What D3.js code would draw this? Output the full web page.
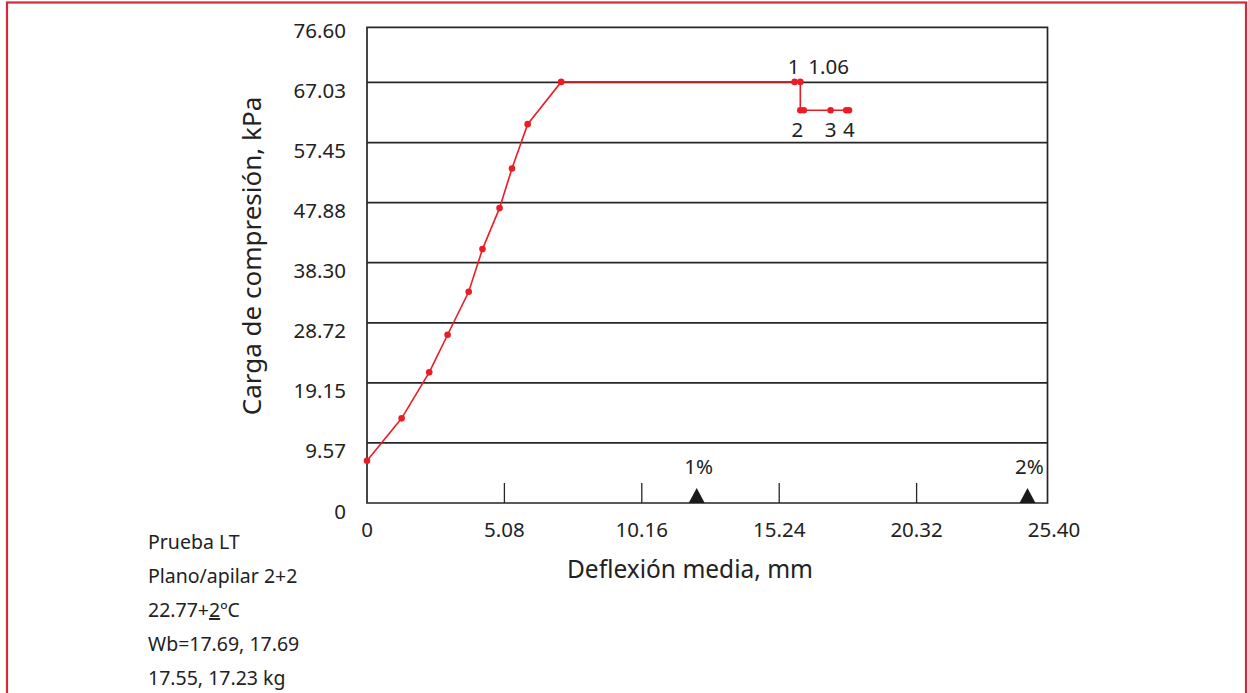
<!DOCTYPE html>
<html><head><meta charset="utf-8">
<script src="https://cdn.jsdelivr.net/npm/d3@7"></script>
<style>body{margin:0;background:#fff}svg{display:block}text{font-family:"Noto Sans",sans-serif;fill:#222}</style>
</head><body><svg id="c" width="1248" height="693"></svg>
<script>
const xTicks = [0, 5.08, 10.16, 15.24, 20.32, 25.40];
const yTicks = [0, 9.57, 19.15, 28.72, 38.30, 47.88, 57.45, 67.03, 76.60];
const defl = [0, 1.28, 2.30, 2.98, 3.76, 4.27, 4.90, 5.36, 5.94, 7.18, 15.81, 16.02, 16.02, 16.15, 17.14, 17.72, 17.82];
const load = [6.74, 13.49, 20.82, 26.82, 33.67, 40.47, 47.0, 53.32, 60.38, 67.12, 67.12, 67.12, 62.61, 62.61, 62.61, 62.61, 62.61];
const pointLabels = [{i:10,t:"1"},{i:11,t:"1.06"},{i:12,t:"2"},{i:14,t:"3"},{i:16,t:"4"}];
const markers = [{x:12.19,t:"1%"},{x:24.42,t:"2%"}];
const notes = ["Prueba LT","Plano/apilar 2+2","22.77+2ºC","Wb=17.69, 17.69","17.55, 17.23 kg"];

const svg = d3.select("#c");
svg.append("rect").attr("x",7).attr("y",2.5).attr("width",1239).attr("height",720)
  .attr("fill","none").attr("stroke","#d32a3b").attr("stroke-width",2.2);

const x = d3.scaleLinear().domain([0,25.40]).range([367,1054]);
const y = d3.scaleLinear().domain([0,76.60]).range([503,22.4]);
const frameRight = x(25.16), frameTop = y(75.8);
const ink = "#262626";

// grid
svg.append("g").selectAll("line").data(yTicks.slice(1,8)).join("line")
  .attr("x1",x(0)).attr("x2",frameRight).attr("y1",d=>y(d)).attr("y2",d=>y(d))
  .attr("stroke",ink).attr("stroke-width",1.7);
// frame
svg.append("path").attr("d",`M${x(0)},${y(0)}V${frameTop}H${frameRight}V${y(0)}Z`)
  .attr("fill","none").attr("stroke",ink).attr("stroke-width",1.7);
// x ticks inside
svg.append("g").selectAll("line").data(xTicks.slice(1,5)).join("line")
  .attr("x1",d=>x(d)).attr("x2",d=>x(d)).attr("y1",y(0)).attr("y2",y(0)-20)
  .attr("stroke",ink).attr("stroke-width",1.3);

// y tick labels
svg.append("g").selectAll("text").data(yTicks).join("text")
  .attr("x",346).attr("y",d=>y(d)+15.5).attr("text-anchor","end")
  .attr("font-size",20.5).text(d=>d===0?"0":d.toFixed(2));
// x tick labels
svg.append("g").selectAll("text").data(xTicks).join("text")
  .attr("x",d=>x(d)).attr("y",537).attr("text-anchor","middle")
  .attr("font-size",20.5).text(d=>d===0?"0":d.toFixed(2));

svg.append("text").attr("x",690).attr("y",578).attr("text-anchor","middle")
  .attr("font-size",24.5).text("Deflexión media, mm");
svg.append("text").attr("transform","translate(261,256) rotate(-90)").attr("text-anchor","middle")
  .attr("font-size",26).text("Carga de compresión, kPa");

// markers
const mk = svg.append("g");
mk.selectAll("path").data(markers).join("path")
  .attr("d",d=>`M${x(d.x)-8},${y(0)}L${x(d.x)},${y(0)-15}L${x(d.x)+8},${y(0)}Z`).attr("fill","#1a1a1a");
mk.selectAll("text").data(markers).join("text")
  .attr("x",d=>x(d.x)+2).attr("y",y(0)-29).attr("text-anchor","middle").attr("font-size",20.5).text(d=>d.t);

// series
const pts = defl.map((d,i)=>[d,load[i]]);
svg.append("path").datum(pts).attr("d",d3.line().x(d=>x(d[0])).y(d=>y(d[1])))
  .attr("fill","none").attr("stroke","#ec1c24").attr("stroke-width",1.6);
svg.append("g").selectAll("circle").data(pts).join("circle")
  .attr("cx",d=>x(d[0])).attr("cy",d=>y(d[1])).attr("r",3.3).attr("fill","#ec1c24");

// point labels
svg.append("g").selectAll("text").data(pointLabels).join("text")
  .attr("x",d=>d.t==="1.06"?x(defl[d.i])+8:x(defl[d.i])+ (d.t==="2"?-3:d.t==="1"?-1:0))
  .attr("y",d=>d.i<12?y(load[d.i])-8:y(load[d.i])+27)
  .attr("text-anchor",d=>d.t==="1.06"?"start":"middle").attr("font-size",20.5).text(d=>d.t);

// notes
svg.append("g").selectAll("text").data(notes).join("text")
  .attr("x",148).attr("y",(d,i)=>549+i*34).attr("font-size",19.5)
  .each(function(d){
    const t=d3.select(this);
    if(d.includes("+2º")){
      const [a,b]=d.split("+2");
      t.append("tspan").text(a+"+");
      t.append("tspan").attr("text-decoration","underline").text("2");
      t.append("tspan").text(b);
    } else t.text(d);
  });
</script></body></html>
